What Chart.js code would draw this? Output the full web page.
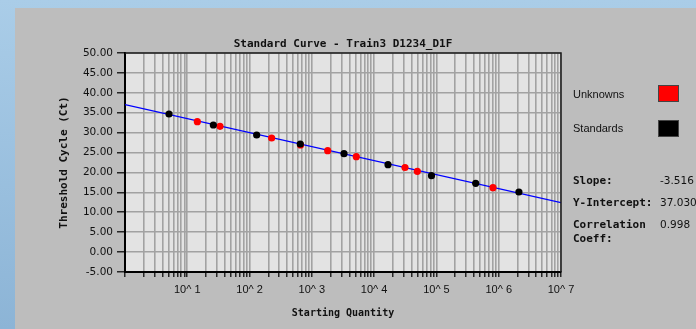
<!DOCTYPE html>
<html>
<head>
<meta charset="utf-8">
<script src="https://cdn.jsdelivr.net/npm/chart.js@4"></script>
<style>
  html, body { margin: 0; padding: 0; }
  body {
    width: 696px; height: 329px; overflow: hidden; position: relative;
    background: linear-gradient(to bottom, #aacde8, #8cb4d6);
  }
  .panel { position: absolute; left: 15px; top: 8px; right: 0; bottom: 0; background: #bdbdbd; }
  #chart { position: absolute; left: 0; top: 0; }
  .txt { position: absolute; line-height: 12px; white-space: nowrap; color: #111; }
  .reg { font: 11px "Liberation Sans", sans-serif; }
  .val { font: 10.5px "DejaVu Sans", sans-serif; }
  .bold { font: bold 11px "DejaVu Sans Mono", monospace; }
  .swatch { position: absolute; width: 21px; height: 17px; box-sizing: border-box; border: 1px solid #444; }
</style>
</head>
<body>
<div class="panel"></div>
<canvas id="chart" width="696" height="329"></canvas>

<div class="txt reg" style="left:573px; top:88px;">Unknowns</div>
<div class="swatch" style="left:658px; top:85px; background:#ff0000;"></div>
<div class="txt reg" style="left:573px; top:122px;">Standards</div>
<div class="swatch" style="left:658px; top:120px; background:#000000;"></div>

<div class="txt bold" style="left:573px; top:174px;">Slope:</div>
<div class="txt val" style="left:660px; top:174px;" id="slopeVal"></div>
<div class="txt bold" style="left:573px; top:196px;">Y-Intercept:</div>
<div class="txt val" style="left:660px; top:196px;" id="interceptVal"></div>
<div class="txt bold" style="left:573px; top:218px;">Correlation</div>
<div class="txt bold" style="left:573px; top:232px;">Coeff:</div>
<div class="txt val" style="left:660px; top:218px;" id="corrVal"></div>

<script>
// standards (black) and unknowns (red): starting quantity vs threshold cycle
const stdQty = [5.09, 26.2, 130, 652, 3280, 16700, 83300, 427000, 2110000];
const stdCt = [34.68, 31.92, 29.41, 27.15, 24.71, 21.95, 19.19, 17.28, 15.09];
const unkQty = [14.5, 33.5, 226, 658, 1796, 5170, 31300, 49300, 809000];
const unkCt = [32.75, 31.59, 28.65, 26.90, 25.46, 23.96, 21.25, 20.29, 16.17];

// regression line end points
const fitQty = [1, 10000000];
const fitCt = [37.03, 12.42];

const slope = "-3.516";
const intercept = "37.030";
const correlation = "0.998";

const decades = [1, 10, 100, 1000, 10000, 100000, 1000000, 10000000];
const decadeLabels = ["", "10^ 1", "10^ 2", "10^ 3", "10^ 4", "10^ 5", "10^ 6", "10^ 7"];
const minorSteps = [1, 2, 3, 4, 5, 6, 7, 8, 9];

document.getElementById("slopeVal").textContent = slope;
document.getElementById("interceptVal").textContent = intercept;
document.getElementById("corrVal").textContent = correlation;

const toPoints = (xs, ys) => xs.map((x, i) => ({ x, y: ys[i] }));

const frame = {
  id: "frame",
  beforeDraw(chart) {
    const { ctx, chartArea: a } = chart;
    ctx.save();
    ctx.fillStyle = "#e3e3e3";
    ctx.fillRect(a.left, a.top, a.right - a.left, a.bottom - a.top);
    ctx.restore();
  },
  afterDraw(chart) {
    const { ctx, chartArea: a } = chart;
    ctx.save();
    ctx.strokeStyle = "#1a1a1a";
    ctx.lineWidth = 1.5;
    ctx.beginPath();
    ctx.moveTo(a.left, a.top);
    ctx.lineTo(a.right, a.top);
    ctx.lineTo(a.right, a.bottom);
    ctx.stroke();
    ctx.fillStyle = "#111";
    ctx.font = "bold 11px 'DejaVu Sans Mono', monospace";
    ctx.textAlign = "center";
    ctx.textBaseline = "middle";
    ctx.fillText("Standard Curve - Train3 D1234_D1F", (a.left + a.right) / 2, 44);
    ctx.restore();
  }
};

new Chart(document.getElementById("chart"), {
  type: "scatter",
  data: {
    datasets: [
      {
        label: "Standards",
        data: toPoints(stdQty, stdCt),
        backgroundColor: "#000000",
        borderWidth: 0,
        pointRadius: 3.6,
        order: 1
      },
      {
        label: "Unknowns",
        data: toPoints(unkQty, unkCt),
        backgroundColor: "#ff0000",
        borderWidth: 0,
        pointRadius: 3.6,
        order: 2
      },
      {
        label: "Fit",
        data: toPoints(fitQty, fitCt),
        showLine: true,
        borderColor: "#0000ff",
        borderWidth: 1.2,
        pointRadius: 0,
        order: 3
      }
    ]
  },
  options: {
    responsive: false,
    animation: false,
    events: [],
    layout: { padding: { left: 0, right: 135, top: 53, bottom: 0 } },
    plugins: { legend: { display: false }, tooltip: { enabled: false }, title: { display: false } },
    scales: {
      x: {
        type: "logarithmic",
        min: 1,
        max: 10000000,
        afterBuildTicks(scale) {
          const vals = [];
          decades.forEach((d) => {
            if (d < 10000000) minorSteps.forEach((m) => vals.push(d * m));
          });
          vals.push(10000000);
          scale.ticks = vals.map((v) => ({ value: v }));
        },
        afterFit(scale) { scale.height = 57; },
        grid: { color: "#a2a2a2", lineWidth: 1.6, tickColor: "#000", tickLength: 5, tickWidth: 1.2 },
        border: { color: "#000", width: 2 },
        ticks: {
          autoSkip: false,
          maxRotation: 0,
          padding: 6,
          color: "#111",
          font: { family: "Liberation Sans", size: 11 },
          callback: (v) => {
            const i = decades.indexOf(v);
            return i >= 0 ? decadeLabels[i] : "";
          }
        },
        title: {
          display: true,
          text: "Starting Quantity",
          color: "#111",
          font: { family: "DejaVu Sans Mono", weight: "bold", size: 10 },
          padding: { top: 0, bottom: 10 }
        }
      },
      y: {
        min: -5,
        max: 50,
        afterFit(scale) { scale.width = 125; },
        grid: { color: "#a2a2a2", lineWidth: 1.6, tickColor: "#000", tickLength: 8, tickWidth: 1.2 },
        border: { color: "#000", width: 2 },
        ticks: {
          stepSize: 5,
          padding: 4,
          color: "#111",
          font: { family: "DejaVu Sans", size: 10.5 },
          callback: (v) => v.toFixed(2)
        },
        title: {
          display: true,
          text: "Threshold Cycle (Ct)",
          color: "#111",
          font: { family: "DejaVu Sans Mono", weight: "bold", size: 11 },
          padding: { top: 58, bottom: 0 }
        }
      }
    }
  },
  plugins: [frame]
});
</script>
</body>
</html>
